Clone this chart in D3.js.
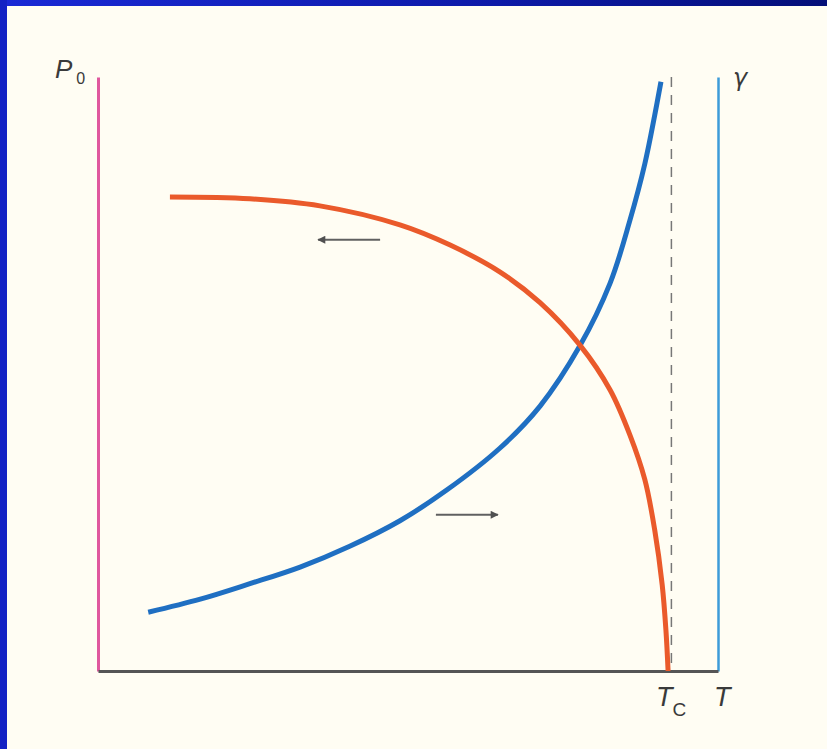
<!DOCTYPE html>
<html>
<head>
<meta charset="utf-8">
<script src="https://cdn.jsdelivr.net/npm/d3@7"></script>
<style>
  html, body { margin: 0; padding: 0; background: #fffdf3; }
  svg { display: block; }
  text { font-family: "Liberation Sans", Arial, sans-serif; font-style: italic; fill: #3a3a3a; }
</style>
</head>
<body>
<svg id="chart" width="827" height="749"></svg>
<script>
// Temperature axis runs 0..100, critical temperature near the right end
const tDomain = [0, 100];
const valueDomain = [0, 100];
const Tc = 92;

// Order parameter P0 falling to zero at Tc
const orderT = [11.6, 24.5, 35.8, 48.7, 56.8, 64.8, 71.3, 77.7, 82.6, 85.8, 88.2, 89.8, 91.0, 91.6, 91.95];
const orderP = [79.8, 79.5, 78.3, 75.1, 71.7, 67.2, 62.0, 54.9, 47.3, 39.7, 32.2, 23.7, 14.5, 6.9, 0];

// Coefficient gamma diverging as T approaches Tc
const gammaT = [8.1, 16.5, 24.5, 32.6, 40.6, 48.7, 56.3, 64.8, 71.3, 77.7, 82.6, 85.8, 88.2, 89.8, 90.8];
const gammaV = [9.9, 12.1, 14.7, 17.5, 21.0, 25.3, 30.5, 37.5, 44.6, 54.7, 65.3, 75.9, 85.4, 93.6, 99.2];

// Direction arrows: [tStart, tEnd, value]
const arrowLeft = [45.5, 35.5, 72.6];
const arrowRight = [54.5, 64.5, 26.3];

const svg = d3.select("#chart");
const W = 827, H = 749;

// Frame: blue band along top and left edges
const defs = svg.append("defs");
const grad = defs.append("linearGradient").attr("id", "band").attr("x1", 0).attr("x2", 1);
grad.append("stop").attr("offset", 0).attr("stop-color", "#1a2ad6");
grad.append("stop").attr("offset", 0.6).attr("stop-color", "#0d1aa8");
grad.append("stop").attr("offset", 1).attr("stop-color", "#040f78");
svg.append("rect").attr("x", 0).attr("y", 0).attr("width", W).attr("height", H).attr("fill", "#fffdf3");
svg.append("rect").attr("x", 0).attr("y", 0).attr("width", W).attr("height", 6).attr("fill", "url(#band)");
svg.append("rect").attr("x", 0).attr("y", 0).attr("width", 7).attr("height", H).attr("fill", "#1322c4");

const x = d3.scaleLinear().domain(tDomain).range([98, 718]);
const y = d3.scaleLinear().domain(valueDomain).range([671, 77]);

// Axes: plain lines with no ticks
const leftAxis = svg.append("g").attr("transform", `translate(${x(0)},0)`)
  .call(d3.axisLeft(y).tickValues([]).tickSizeOuter(0));
leftAxis.select(".domain").attr("stroke", "#e0589e").attr("stroke-width", 3);

const rightAxis = svg.append("g").attr("transform", `translate(${x(100)},0)`)
  .call(d3.axisRight(y).tickValues([]).tickSizeOuter(0));
rightAxis.select(".domain").attr("stroke", "#3d9bd9").attr("stroke-width", 2.5);

const bottomAxis = svg.append("g").attr("transform", `translate(0,${y(0)})`)
  .call(d3.axisBottom(x).tickValues([]).tickSizeOuter(0));
bottomAxis.select(".domain").attr("stroke", "#555").attr("stroke-width", 3);

// Dashed line at Tc
svg.append("line")
  .attr("x1", x(Tc) + 3).attr("x2", x(Tc) + 3)
  .attr("y1", y(100)).attr("y2", y(0))
  .attr("stroke", "#777").attr("stroke-width", 1.5)
  .attr("stroke-dasharray", "10,8");

const line = d3.line().x(d => x(d[0])).y(d => y(d[1])).curve(d3.curveCatmullRom.alpha(0.5));

svg.append("path")
  .datum(gammaT.map((t, i) => [t, gammaV[i]]))
  .attr("d", line)
  .attr("fill", "none").attr("stroke", "#1f6fc2").attr("stroke-width", 5);

svg.append("path")
  .datum(orderT.map((t, i) => [t, orderP[i]]))
  .attr("d", line)
  .attr("fill", "none").attr("stroke", "#ea5a2b").attr("stroke-width", 5);

// Arrows
defs.append("marker").attr("id", "head")
  .attr("viewBox", "0 0 10 10").attr("refX", 9).attr("refY", 5)
  .attr("markerWidth", 14).attr("markerHeight", 8).attr("markerUnits", "userSpaceOnUse")
  .attr("orient", "auto")
  .append("path").attr("d", "M0,0 L10,5 L0,10 Z").attr("fill", "#505050");

[arrowLeft, arrowRight].forEach(a => {
  svg.append("line")
    .attr("x1", x(a[0])).attr("x2", x(a[1]))
    .attr("y1", y(a[2])).attr("y2", y(a[2]))
    .attr("stroke", "#606060").attr("stroke-width", 2)
    .attr("marker-end", "url(#head)");
});

// Labels
const p = svg.append("text").attr("x", 55).attr("y", 78).attr("font-size", 26);
p.append("tspan").text("P");
p.append("tspan").attr("font-size", 16).attr("font-style", "normal").attr("dx", 4).attr("dy", 6).text("0");

svg.append("text").attr("x", 733).attr("y", 86).attr("font-size", 24)
  .style("font-family", "'DejaVu Sans', sans-serif").attr("font-style", "normal").text("γ");

const tc = svg.append("text").attr("x", 656).attr("y", 706).attr("font-size", 27);
tc.append("tspan").text("T");
tc.append("tspan").attr("font-size", 19).attr("font-style", "normal").attr("dx", 0).attr("dy", 10).text("C");

svg.append("text").attr("x", 714).attr("y", 706).attr("font-size", 27).text("T");
</script>
</body>
</html>
